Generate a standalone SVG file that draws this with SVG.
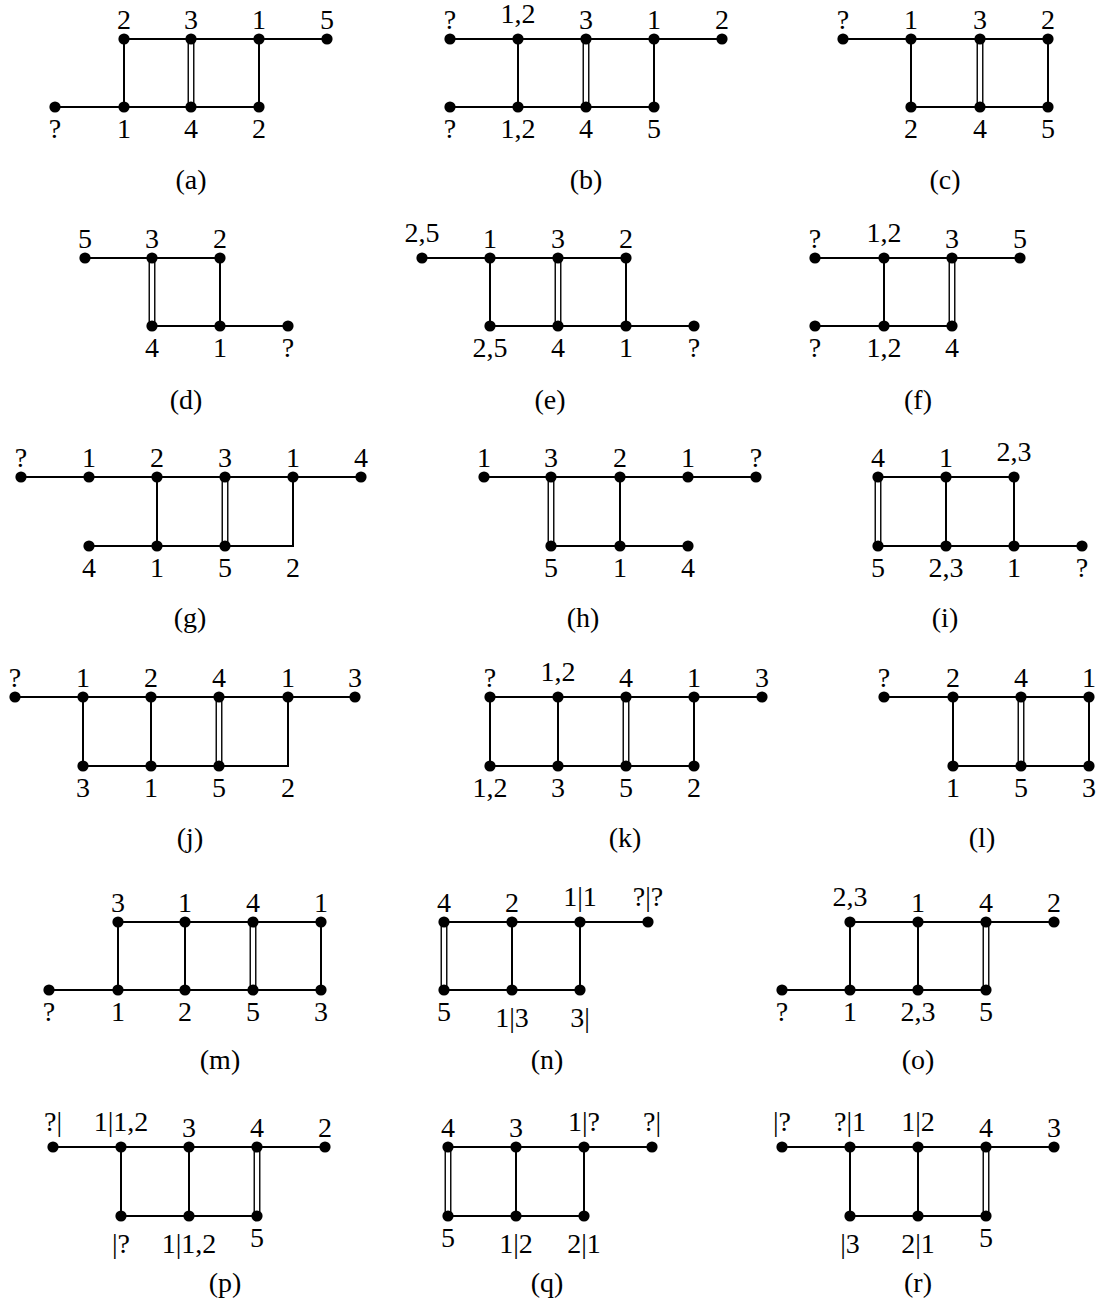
<svg xmlns="http://www.w3.org/2000/svg" width="1102" height="1312" viewBox="0 0 1102 1312">
<style>
.e{stroke:#000;stroke-width:2;fill:none;stroke-linejoin:miter}
.d1{stroke:#111;stroke-width:7}
.d2{stroke:#fff;stroke-width:4}
circle{fill:#000}
text{font-family:"Liberation Serif","DejaVu Serif",serif;font-size:28px;text-anchor:middle;fill:#000}
</style>
<rect width="1102" height="1312" fill="#fff"/>

<!-- (a) -->
<g id="panel-a">
<g id="a-edges">
<line class="e" x1="124" y1="39" x2="327" y2="39"/>
<line class="e" x1="55" y1="107" x2="259" y2="107"/>
<line class="e" x1="124" y1="39" x2="124" y2="107"/>
<line class="e" x1="259" y1="39" x2="259" y2="107"/>
<line class="d1" x1="191" y1="39" x2="191" y2="107"/><line class="d2" x1="191" y1="39" x2="191" y2="107"/>
</g>
<g id="a-t1"><circle cx="124" cy="39" r="5.6"/><text x="124" y="29">2</text></g>
<g id="a-t2"><circle cx="191" cy="39" r="5.6"/><text x="191" y="29">3</text></g>
<g id="a-t3"><circle cx="259" cy="39" r="5.6"/><text x="259" y="29">1</text></g>
<g id="a-t4"><circle cx="327" cy="39" r="5.6"/><text x="327" y="29">5</text></g>
<g id="a-b0"><circle cx="55" cy="107" r="5.6"/><text x="55" y="138">?</text></g>
<g id="a-b1"><circle cx="124" cy="107" r="5.6"/><text x="124" y="138">1</text></g>
<g id="a-b2"><circle cx="191" cy="107" r="5.6"/><text x="191" y="138">4</text></g>
<g id="a-b3"><circle cx="259" cy="107" r="5.6"/><text x="259" y="138">2</text></g>
<text x="191" y="189">(a)</text>
</g>

<!-- (b) -->
<g id="panel-b">
<g id="b-edges">
<line class="e" x1="450" y1="39" x2="722" y2="39"/>
<line class="e" x1="450" y1="107" x2="654" y2="107"/>
<line class="e" x1="518" y1="39" x2="518" y2="107"/>
<line class="e" x1="654" y1="39" x2="654" y2="107"/>
<line class="d1" x1="586" y1="39" x2="586" y2="107"/><line class="d2" x1="586" y1="39" x2="586" y2="107"/>
</g>
<g id="b-t0"><circle cx="450" cy="39" r="5.6"/><text x="450" y="29">?</text></g>
<g id="b-t1"><circle cx="518" cy="39" r="5.6"/><text x="518" y="23">1,2</text></g>
<g id="b-t2"><circle cx="586" cy="39" r="5.6"/><text x="586" y="29">3</text></g>
<g id="b-t3"><circle cx="654" cy="39" r="5.6"/><text x="654" y="29">1</text></g>
<g id="b-t4"><circle cx="722" cy="39" r="5.6"/><text x="722" y="29">2</text></g>
<g id="b-b0"><circle cx="450" cy="107" r="5.6"/><text x="450" y="138">?</text></g>
<g id="b-b1"><circle cx="518" cy="107" r="5.6"/><text x="518" y="138">1,2</text></g>
<g id="b-b2"><circle cx="586" cy="107" r="5.6"/><text x="586" y="138">4</text></g>
<g id="b-b3"><circle cx="654" cy="107" r="5.6"/><text x="654" y="138">5</text></g>
<text x="586" y="189">(b)</text>
</g>

<!-- (c) -->
<g id="panel-c">
<g id="c-edges">
<line class="e" x1="843" y1="39" x2="1048" y2="39"/>
<line class="e" x1="911" y1="107" x2="1048" y2="107"/>
<line class="e" x1="911" y1="39" x2="911" y2="107"/>
<line class="e" x1="1048" y1="39" x2="1048" y2="107"/>
<line class="d1" x1="980" y1="39" x2="980" y2="107"/><line class="d2" x1="980" y1="39" x2="980" y2="107"/>
</g>
<g id="c-t0"><circle cx="843" cy="39" r="5.6"/><text x="843" y="29">?</text></g>
<g id="c-t1"><circle cx="911" cy="39" r="5.6"/><text x="911" y="29">1</text></g>
<g id="c-t2"><circle cx="980" cy="39" r="5.6"/><text x="980" y="29">3</text></g>
<g id="c-t3"><circle cx="1048" cy="39" r="5.6"/><text x="1048" y="29">2</text></g>
<g id="c-b1"><circle cx="911" cy="107" r="5.6"/><text x="911" y="138">2</text></g>
<g id="c-b2"><circle cx="980" cy="107" r="5.6"/><text x="980" y="138">4</text></g>
<g id="c-b3"><circle cx="1048" cy="107" r="5.6"/><text x="1048" y="138">5</text></g>
<text x="945" y="189">(c)</text>
</g>

<!-- (d) -->
<g id="panel-d">
<g id="d-edges">
<line class="e" x1="85" y1="258" x2="220" y2="258"/>
<line class="e" x1="152" y1="326" x2="288" y2="326"/>
<line class="e" x1="220" y1="258" x2="220" y2="326"/>
<line class="d1" x1="152" y1="258" x2="152" y2="326"/><line class="d2" x1="152" y1="258" x2="152" y2="326"/>
</g>
<g id="d-t0"><circle cx="85" cy="258" r="5.6"/><text x="85" y="248">5</text></g>
<g id="d-t1"><circle cx="152" cy="258" r="5.6"/><text x="152" y="248">3</text></g>
<g id="d-t2"><circle cx="220" cy="258" r="5.6"/><text x="220" y="248">2</text></g>
<g id="d-b1"><circle cx="152" cy="326" r="5.6"/><text x="152" y="357">4</text></g>
<g id="d-b2"><circle cx="220" cy="326" r="5.6"/><text x="220" y="357">1</text></g>
<g id="d-b3"><circle cx="288" cy="326" r="5.6"/><text x="288" y="357">?</text></g>
<text x="186" y="409">(d)</text>
</g>

<!-- (e) -->
<g id="panel-e">
<g id="e-edges">
<line class="e" x1="422" y1="258" x2="626" y2="258"/>
<line class="e" x1="490" y1="326" x2="694" y2="326"/>
<line class="e" x1="490" y1="258" x2="490" y2="326"/>
<line class="e" x1="626" y1="258" x2="626" y2="326"/>
<line class="d1" x1="558" y1="258" x2="558" y2="326"/><line class="d2" x1="558" y1="258" x2="558" y2="326"/>
</g>
<g id="e-t0"><circle cx="422" cy="258" r="5.6"/><text x="422" y="242">2,5</text></g>
<g id="e-t1"><circle cx="490" cy="258" r="5.6"/><text x="490" y="248">1</text></g>
<g id="e-t2"><circle cx="558" cy="258" r="5.6"/><text x="558" y="248">3</text></g>
<g id="e-t3"><circle cx="626" cy="258" r="5.6"/><text x="626" y="248">2</text></g>
<g id="e-b1"><circle cx="490" cy="326" r="5.6"/><text x="490" y="357">2,5</text></g>
<g id="e-b2"><circle cx="558" cy="326" r="5.6"/><text x="558" y="357">4</text></g>
<g id="e-b3"><circle cx="626" cy="326" r="5.6"/><text x="626" y="357">1</text></g>
<g id="e-b4"><circle cx="694" cy="326" r="5.6"/><text x="694" y="357">?</text></g>
<text x="550" y="409">(e)</text>
</g>

<!-- (f) -->
<g id="panel-f">
<g id="f-edges">
<line class="e" x1="815" y1="258" x2="1020" y2="258"/>
<line class="e" x1="815" y1="326" x2="952" y2="326"/>
<line class="e" x1="884" y1="258" x2="884" y2="326"/>
<line class="d1" x1="952" y1="258" x2="952" y2="326"/><line class="d2" x1="952" y1="258" x2="952" y2="326"/>
</g>
<g id="f-t0"><circle cx="815" cy="258" r="5.6"/><text x="815" y="248">?</text></g>
<g id="f-t1"><circle cx="884" cy="258" r="5.6"/><text x="884" y="242">1,2</text></g>
<g id="f-t2"><circle cx="952" cy="258" r="5.6"/><text x="952" y="248">3</text></g>
<g id="f-t3"><circle cx="1020" cy="258" r="5.6"/><text x="1020" y="248">5</text></g>
<g id="f-b0"><circle cx="815" cy="326" r="5.6"/><text x="815" y="357">?</text></g>
<g id="f-b1"><circle cx="884" cy="326" r="5.6"/><text x="884" y="357">1,2</text></g>
<g id="f-b2"><circle cx="952" cy="326" r="5.6"/><text x="952" y="357">4</text></g>
<text x="918" y="409">(f)</text>
</g>

<!-- (g) -->
<g id="panel-g">
<g id="g-edges">
<line class="e" x1="21" y1="477" x2="361" y2="477"/>
<polyline class="e" points="89,546 293,546 293,477"/>
<line class="e" x1="157" y1="477" x2="157" y2="546"/>
<line class="d1" x1="225" y1="477" x2="225" y2="546"/><line class="d2" x1="225" y1="477" x2="225" y2="546"/>
</g>
<g id="g-t0"><circle cx="21" cy="477" r="5.6"/><text x="21" y="467">?</text></g>
<g id="g-t1"><circle cx="89" cy="477" r="5.6"/><text x="89" y="467">1</text></g>
<g id="g-t2"><circle cx="157" cy="477" r="5.6"/><text x="157" y="467">2</text></g>
<g id="g-t3"><circle cx="225" cy="477" r="5.6"/><text x="225" y="467">3</text></g>
<g id="g-t4"><circle cx="293" cy="477" r="5.6"/><text x="293" y="467">1</text></g>
<g id="g-t5"><circle cx="361" cy="477" r="5.6"/><text x="361" y="467">4</text></g>
<g id="g-b1"><circle cx="89" cy="546" r="5.6"/><text x="89" y="577">4</text></g>
<g id="g-b2"><circle cx="157" cy="546" r="5.6"/><text x="157" y="577">1</text></g>
<g id="g-b3"><circle cx="225" cy="546" r="5.6"/><text x="225" y="577">5</text></g>
<g id="g-b4"><text x="293" y="577">2</text></g>
<text x="190" y="627">(g)</text>
</g>

<!-- (h) -->
<g id="panel-h">
<g id="h-edges">
<line class="e" x1="484" y1="477" x2="756" y2="477"/>
<line class="e" x1="551" y1="546" x2="688" y2="546"/>
<line class="e" x1="620" y1="477" x2="620" y2="546"/>
<line class="d1" x1="551" y1="477" x2="551" y2="546"/><line class="d2" x1="551" y1="477" x2="551" y2="546"/>
</g>
<g id="h-t0"><circle cx="484" cy="477" r="5.6"/><text x="484" y="467">1</text></g>
<g id="h-t1"><circle cx="551" cy="477" r="5.6"/><text x="551" y="467">3</text></g>
<g id="h-t2"><circle cx="620" cy="477" r="5.6"/><text x="620" y="467">2</text></g>
<g id="h-t3"><circle cx="688" cy="477" r="5.6"/><text x="688" y="467">1</text></g>
<g id="h-t4"><circle cx="756" cy="477" r="5.6"/><text x="756" y="467">?</text></g>
<g id="h-b1"><circle cx="551" cy="546" r="5.6"/><text x="551" y="577">5</text></g>
<g id="h-b2"><circle cx="620" cy="546" r="5.6"/><text x="620" y="577">1</text></g>
<g id="h-b3"><circle cx="688" cy="546" r="5.6"/><text x="688" y="577">4</text></g>
<text x="583" y="627">(h)</text>
</g>

<!-- (i) -->
<g id="panel-i">
<g id="i-edges">
<line class="e" x1="878" y1="477" x2="1014" y2="477"/>
<line class="e" x1="878" y1="546" x2="1082" y2="546"/>
<line class="e" x1="946" y1="477" x2="946" y2="546"/>
<line class="e" x1="1014" y1="477" x2="1014" y2="546"/>
<line class="d1" x1="878" y1="477" x2="878" y2="546"/><line class="d2" x1="878" y1="477" x2="878" y2="546"/>
</g>
<g id="i-t0"><circle cx="878" cy="477" r="5.6"/><text x="878" y="467">4</text></g>
<g id="i-t1"><circle cx="946" cy="477" r="5.6"/><text x="946" y="467">1</text></g>
<g id="i-t2"><circle cx="1014" cy="477" r="5.6"/><text x="1014" y="461">2,3</text></g>
<g id="i-b0"><circle cx="878" cy="546" r="5.6"/><text x="878" y="577">5</text></g>
<g id="i-b1"><circle cx="946" cy="546" r="5.6"/><text x="946" y="577">2,3</text></g>
<g id="i-b2"><circle cx="1014" cy="546" r="5.6"/><text x="1014" y="577">1</text></g>
<g id="i-b3"><circle cx="1082" cy="546" r="5.6"/><text x="1082" y="577">?</text></g>
<text x="945" y="627">(i)</text>
</g>

<!-- (j) -->
<g id="panel-j">
<g id="j-edges">
<line class="e" x1="15" y1="697" x2="355" y2="697"/>
<polyline class="e" points="83,766 288,766 288,697"/>
<line class="e" x1="83" y1="697" x2="83" y2="766"/>
<line class="e" x1="151" y1="697" x2="151" y2="766"/>
<line class="d1" x1="219" y1="697" x2="219" y2="766"/><line class="d2" x1="219" y1="697" x2="219" y2="766"/>
</g>
<g id="j-t0"><circle cx="15" cy="697" r="5.6"/><text x="15" y="687">?</text></g>
<g id="j-t1"><circle cx="83" cy="697" r="5.6"/><text x="83" y="687">1</text></g>
<g id="j-t2"><circle cx="151" cy="697" r="5.6"/><text x="151" y="687">2</text></g>
<g id="j-t3"><circle cx="219" cy="697" r="5.6"/><text x="219" y="687">4</text></g>
<g id="j-t4"><circle cx="288" cy="697" r="5.6"/><text x="288" y="687">1</text></g>
<g id="j-t5"><circle cx="355" cy="697" r="5.6"/><text x="355" y="687">3</text></g>
<g id="j-b1"><circle cx="83" cy="766" r="5.6"/><text x="83" y="797">3</text></g>
<g id="j-b2"><circle cx="151" cy="766" r="5.6"/><text x="151" y="797">1</text></g>
<g id="j-b3"><circle cx="219" cy="766" r="5.6"/><text x="219" y="797">5</text></g>
<g id="j-b4"><text x="288" y="797">2</text></g>
<text x="190" y="847">(j)</text>
</g>

<!-- (k) -->
<g id="panel-k">
<g id="k-edges">
<line class="e" x1="490" y1="697" x2="762" y2="697"/>
<line class="e" x1="490" y1="766" x2="694" y2="766"/>
<line class="e" x1="490" y1="697" x2="490" y2="766"/>
<line class="e" x1="558" y1="697" x2="558" y2="766"/>
<line class="e" x1="694" y1="697" x2="694" y2="766"/>
<line class="d1" x1="626" y1="697" x2="626" y2="766"/><line class="d2" x1="626" y1="697" x2="626" y2="766"/>
</g>
<g id="k-t0"><circle cx="490" cy="697" r="5.6"/><text x="490" y="687">?</text></g>
<g id="k-t1"><circle cx="558" cy="697" r="5.6"/><text x="558" y="681">1,2</text></g>
<g id="k-t2"><circle cx="626" cy="697" r="5.6"/><text x="626" y="687">4</text></g>
<g id="k-t3"><circle cx="694" cy="697" r="5.6"/><text x="694" y="687">1</text></g>
<g id="k-t4"><circle cx="762" cy="697" r="5.6"/><text x="762" y="687">3</text></g>
<g id="k-b0"><circle cx="490" cy="766" r="5.6"/><text x="490" y="797">1,2</text></g>
<g id="k-b1"><circle cx="558" cy="766" r="5.6"/><text x="558" y="797">3</text></g>
<g id="k-b2"><circle cx="626" cy="766" r="5.6"/><text x="626" y="797">5</text></g>
<g id="k-b3"><circle cx="694" cy="766" r="5.6"/><text x="694" y="797">2</text></g>
<text x="625" y="847">(k)</text>
</g>

<!-- (l) -->
<g id="panel-l">
<g id="l-edges">
<line class="e" x1="884" y1="697" x2="1089" y2="697"/>
<line class="e" x1="953" y1="766" x2="1089" y2="766"/>
<line class="e" x1="953" y1="697" x2="953" y2="766"/>
<line class="e" x1="1089" y1="697" x2="1089" y2="766"/>
<line class="d1" x1="1021" y1="697" x2="1021" y2="766"/><line class="d2" x1="1021" y1="697" x2="1021" y2="766"/>
</g>
<g id="l-t0"><circle cx="884" cy="697" r="5.6"/><text x="884" y="687">?</text></g>
<g id="l-t1"><circle cx="953" cy="697" r="5.6"/><text x="953" y="687">2</text></g>
<g id="l-t2"><circle cx="1021" cy="697" r="5.6"/><text x="1021" y="687">4</text></g>
<g id="l-t3"><circle cx="1089" cy="697" r="5.6"/><text x="1089" y="687">1</text></g>
<g id="l-b1"><circle cx="953" cy="766" r="5.6"/><text x="953" y="797">1</text></g>
<g id="l-b2"><circle cx="1021" cy="766" r="5.6"/><text x="1021" y="797">5</text></g>
<g id="l-b3"><circle cx="1089" cy="766" r="5.6"/><text x="1089" y="797">3</text></g>
<text x="982" y="847">(l)</text>
</g>

<!-- (m) -->
<g id="panel-m">
<g id="m-edges">
<line class="e" x1="118" y1="922" x2="321" y2="922"/>
<line class="e" x1="49" y1="990" x2="321" y2="990"/>
<line class="e" x1="118" y1="922" x2="118" y2="990"/>
<line class="e" x1="185" y1="922" x2="185" y2="990"/>
<line class="e" x1="321" y1="922" x2="321" y2="990"/>
<line class="d1" x1="253" y1="922" x2="253" y2="990"/><line class="d2" x1="253" y1="922" x2="253" y2="990"/>
</g>
<g id="m-t1"><circle cx="118" cy="922" r="5.6"/><text x="118" y="912">3</text></g>
<g id="m-t2"><circle cx="185" cy="922" r="5.6"/><text x="185" y="912">1</text></g>
<g id="m-t3"><circle cx="253" cy="922" r="5.6"/><text x="253" y="912">4</text></g>
<g id="m-t4"><circle cx="321" cy="922" r="5.6"/><text x="321" y="912">1</text></g>
<g id="m-b0"><circle cx="49" cy="990" r="5.6"/><text x="49" y="1021">?</text></g>
<g id="m-b1"><circle cx="118" cy="990" r="5.6"/><text x="118" y="1021">1</text></g>
<g id="m-b2"><circle cx="185" cy="990" r="5.6"/><text x="185" y="1021">2</text></g>
<g id="m-b3"><circle cx="253" cy="990" r="5.6"/><text x="253" y="1021">5</text></g>
<g id="m-b4"><circle cx="321" cy="990" r="5.6"/><text x="321" y="1021">3</text></g>
<text x="220" y="1069">(m)</text>
</g>

<!-- (n) -->
<g id="panel-n">
<g id="n-edges">
<line class="e" x1="444" y1="922" x2="648" y2="922"/>
<line class="e" x1="444" y1="990" x2="580" y2="990"/>
<line class="e" x1="512" y1="922" x2="512" y2="990"/>
<line class="e" x1="580" y1="922" x2="580" y2="990"/>
<line class="d1" x1="444" y1="922" x2="444" y2="990"/><line class="d2" x1="444" y1="922" x2="444" y2="990"/>
</g>
<g id="n-t0"><circle cx="444" cy="922" r="5.6"/><text x="444" y="912">4</text></g>
<g id="n-t1"><circle cx="512" cy="922" r="5.6"/><text x="512" y="912">2</text></g>
<g id="n-t2"><circle cx="580" cy="922" r="5.6"/><text x="580" y="906">1|1</text></g>
<g id="n-t3"><circle cx="648" cy="922" r="5.6"/><text x="648" y="906">?|?</text></g>
<g id="n-b0"><circle cx="444" cy="990" r="5.6"/><text x="444" y="1021">5</text></g>
<g id="n-b1"><circle cx="512" cy="990" r="5.6"/><text x="512" y="1027">1|3</text></g>
<g id="n-b2"><circle cx="580" cy="990" r="5.6"/><text x="580" y="1027">3|</text></g>
<text x="547" y="1069">(n)</text>
</g>

<!-- (o) -->
<g id="panel-o">
<g id="o-edges">
<line class="e" x1="850" y1="922" x2="1054" y2="922"/>
<line class="e" x1="782" y1="990" x2="986" y2="990"/>
<line class="e" x1="850" y1="922" x2="850" y2="990"/>
<line class="e" x1="918" y1="922" x2="918" y2="990"/>
<line class="d1" x1="986" y1="922" x2="986" y2="990"/><line class="d2" x1="986" y1="922" x2="986" y2="990"/>
</g>
<g id="o-t1"><circle cx="850" cy="922" r="5.6"/><text x="850" y="906">2,3</text></g>
<g id="o-t2"><circle cx="918" cy="922" r="5.6"/><text x="918" y="912">1</text></g>
<g id="o-t3"><circle cx="986" cy="922" r="5.6"/><text x="986" y="912">4</text></g>
<g id="o-t4"><circle cx="1054" cy="922" r="5.6"/><text x="1054" y="912">2</text></g>
<g id="o-b0"><circle cx="782" cy="990" r="5.6"/><text x="782" y="1021">?</text></g>
<g id="o-b1"><circle cx="850" cy="990" r="5.6"/><text x="850" y="1021">1</text></g>
<g id="o-b2"><circle cx="918" cy="990" r="5.6"/><text x="918" y="1021">2,3</text></g>
<g id="o-b3"><circle cx="986" cy="990" r="5.6"/><text x="986" y="1021">5</text></g>
<text x="918" y="1069">(o)</text>
</g>

<!-- (p) -->
<g id="panel-p">
<g id="p-edges">
<line class="e" x1="53" y1="1147" x2="325" y2="1147"/>
<line class="e" x1="121" y1="1216" x2="257" y2="1216"/>
<line class="e" x1="121" y1="1147" x2="121" y2="1216"/>
<line class="e" x1="189" y1="1147" x2="189" y2="1216"/>
<line class="d1" x1="257" y1="1147" x2="257" y2="1216"/><line class="d2" x1="257" y1="1147" x2="257" y2="1216"/>
</g>
<g id="p-t0"><circle cx="53" cy="1147" r="5.6"/><text x="53" y="1131">?|</text></g>
<g id="p-t1"><circle cx="121" cy="1147" r="5.6"/><text x="121" y="1131">1|1,2</text></g>
<g id="p-t2"><circle cx="189" cy="1147" r="5.6"/><text x="189" y="1137">3</text></g>
<g id="p-t3"><circle cx="257" cy="1147" r="5.6"/><text x="257" y="1137">4</text></g>
<g id="p-t4"><circle cx="325" cy="1147" r="5.6"/><text x="325" y="1137">2</text></g>
<g id="p-b1"><circle cx="121" cy="1216" r="5.6"/><text x="121" y="1253">|?</text></g>
<g id="p-b2"><circle cx="189" cy="1216" r="5.6"/><text x="189" y="1253">1|1,2</text></g>
<g id="p-b3"><circle cx="257" cy="1216" r="5.6"/><text x="257" y="1247">5</text></g>
<text x="225" y="1292">(p)</text>
</g>

<!-- (q) -->
<g id="panel-q">
<g id="q-edges">
<line class="e" x1="448" y1="1147" x2="652" y2="1147"/>
<line class="e" x1="448" y1="1216" x2="584" y2="1216"/>
<line class="e" x1="516" y1="1147" x2="516" y2="1216"/>
<line class="e" x1="584" y1="1147" x2="584" y2="1216"/>
<line class="d1" x1="448" y1="1147" x2="448" y2="1216"/><line class="d2" x1="448" y1="1147" x2="448" y2="1216"/>
</g>
<g id="q-t0"><circle cx="448" cy="1147" r="5.6"/><text x="448" y="1137">4</text></g>
<g id="q-t1"><circle cx="516" cy="1147" r="5.6"/><text x="516" y="1137">3</text></g>
<g id="q-t2"><circle cx="584" cy="1147" r="5.6"/><text x="584" y="1131">1|?</text></g>
<g id="q-t3"><circle cx="652" cy="1147" r="5.6"/><text x="652" y="1131">?|</text></g>
<g id="q-b0"><circle cx="448" cy="1216" r="5.6"/><text x="448" y="1247">5</text></g>
<g id="q-b1"><circle cx="516" cy="1216" r="5.6"/><text x="516" y="1253">1|2</text></g>
<g id="q-b2"><circle cx="584" cy="1216" r="5.6"/><text x="584" y="1253">2|1</text></g>
<text x="547" y="1292">(q)</text>
</g>

<!-- (r) -->
<g id="panel-r">
<g id="r-edges">
<line class="e" x1="782" y1="1147" x2="1054" y2="1147"/>
<line class="e" x1="850" y1="1216" x2="986" y2="1216"/>
<line class="e" x1="850" y1="1147" x2="850" y2="1216"/>
<line class="e" x1="918" y1="1147" x2="918" y2="1216"/>
<line class="d1" x1="986" y1="1147" x2="986" y2="1216"/><line class="d2" x1="986" y1="1147" x2="986" y2="1216"/>
</g>
<g id="r-t0"><circle cx="782" cy="1147" r="5.6"/><text x="782" y="1131">|?</text></g>
<g id="r-t1"><circle cx="850" cy="1147" r="5.6"/><text x="850" y="1131">?|1</text></g>
<g id="r-t2"><circle cx="918" cy="1147" r="5.6"/><text x="918" y="1131">1|2</text></g>
<g id="r-t3"><circle cx="986" cy="1147" r="5.6"/><text x="986" y="1137">4</text></g>
<g id="r-t4"><circle cx="1054" cy="1147" r="5.6"/><text x="1054" y="1137">3</text></g>
<g id="r-b1"><circle cx="850" cy="1216" r="5.6"/><text x="850" y="1253">|3</text></g>
<g id="r-b2"><circle cx="918" cy="1216" r="5.6"/><text x="918" y="1253">2|1</text></g>
<g id="r-b3"><circle cx="986" cy="1216" r="5.6"/><text x="986" y="1247">5</text></g>
<text x="918" y="1292">(r)</text>
</g>
</svg>
